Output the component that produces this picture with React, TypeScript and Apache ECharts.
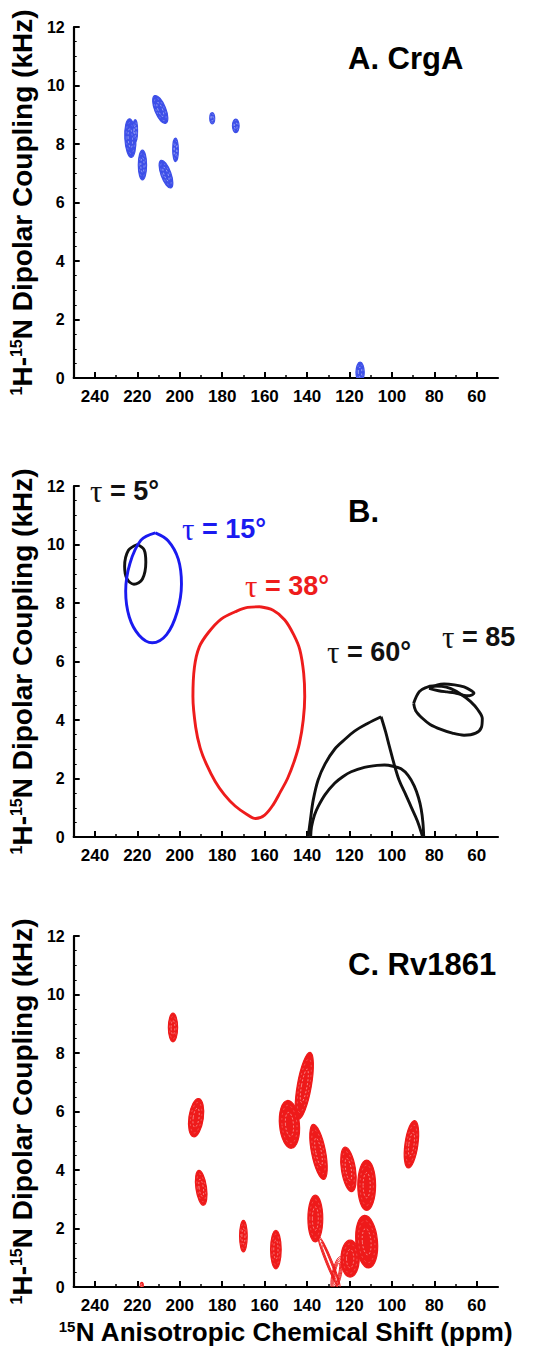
import React, { useEffect, useRef } from 'react';
import * as echarts from 'echarts';

// ---------- data ----------
const xMajorTicks = [240, 220, 200, 180, 160, 140, 120, 100, 80, 60];
const xMinorTicks = [230, 210, 190, 170, 150, 130, 110, 90, 70];

const panelTitles = ['A. CrgA', 'B.', 'C. Rv1861'];
const tauLabels = ['5°', '15°', '38°', '60°', '85'];

// peaks: [ppm, kHz, halfWidthPpm, halfHeightKHz, tiltDeg]
const crgaPeaks = [
  [223.3, 8.2, 2.6, 0.66, 3],
  [221.0, 8.45, 1.1, 0.38, 0],
  [217.6, 7.28, 1.95, 0.51, 0],
  [209.2, 9.18, 2.6, 0.51, 22],
  [206.5, 6.97, 2.35, 0.5, 20],
  [202.0, 7.8, 1.34, 0.4, 0],
  [184.7, 8.88, 1.17, 0.19, 0],
  [173.6, 8.62, 1.57, 0.23, 0],
  [115.0, 0.2, 1.95, 0.34, 0],
];

const rv1861Peaks = [
  [203.2, 8.87, 2.18, 0.49, 0],
  [192.3, 5.79, 3.4, 0.66, -8],
  [189.9, 3.39, 2.5, 0.6, 8],
  [170.0, 1.74, 1.8, 0.54, 0],
  [154.7, 1.28, 2.5, 0.66, 0],
  [148.3, 5.56, 4.7, 0.82, 5],
  [141.3, 6.88, 3.3, 1.16, -10],
  [134.6, 4.62, 3.3, 0.96, 11],
  [136.1, 2.34, 3.5, 0.8, 0],
  [120.5, 4.02, 3.3, 0.77, 9],
  [111.9, 3.48, 4.2, 0.86, 0],
  [111.9, 1.55, 5.1, 0.9, 5],
  [119.7, 0.97, 4.3, 0.63, 0],
  [90.8, 4.88, 3.05, 0.82, -8],
  [217.9, 0.06, 0.7, 0.1, 0],
];
// faint ridge contours near the axis: [ppm, kHz, halfWidthPpm, halfHeightKHz, tiltDeg]
const rv1861Ridges = [
  [129.6, 0.85, 1.5, 0.95, 22],
  [126.0, 0.45, 2.2, 0.6, -12],
];

// PISA wheel outlines: [ppm, kHz]
const tau5 = [
  [220.0, 10.0], [216.8, 9.82], [216.0, 9.4], [217.6, 8.82], [221.6, 8.64],
  [224.9, 8.83], [226.0, 9.25], [224.2, 9.8], [220.0, 10.0],
];
const tau15 = [
  [211.5, 10.4], [205.5, 10.13], [200.7, 9.5], [199.2, 8.65], [201.2, 7.7],
  [206.2, 6.92], [213.0, 6.64], [219.2, 6.9], [223.8, 7.52], [225.5, 8.4],
  [223.5, 9.35], [218.3, 10.15], [211.5, 10.4],
];
const tau38 = [
  [162.2, 7.87], [156.0, 7.75], [150.5, 7.42], [146.2, 6.9], [143.4, 6.4],
  [141.6, 5.6], [141.1, 4.8], [141.8, 4.0], [143.6, 3.2], [146.0, 2.6],
  [149.2, 2.0], [152.5, 1.55], [156.0, 1.1], [160.0, 0.75], [164.2, 0.63],
  [168.5, 0.78], [173.9, 1.06], [179.0, 1.45], [183.3, 1.9], [187.5, 2.5],
  [190.4, 3.05], [192.5, 3.75], [193.8, 4.8], [193.1, 5.8], [190.8, 6.5],
  [186.4, 7.0], [180.5, 7.45], [173.9, 7.7], [168.0, 7.85], [162.2, 7.87],
];
const tau60Outer = [
  [139.5, 0], [138.4, 0.6], [137.1, 1.26], [134.8, 1.95], [131.5, 2.5],
  [127.0, 3.0], [122.0, 3.35], [117.6, 3.62], [111.5, 3.88], [105.1, 4.11],
];
const tau60Edge = [
  [105.1, 4.11], [103.0, 3.6], [101.2, 3.1], [98.8, 2.45], [96.5, 1.92],
  [93.5, 1.45], [91.0, 1.04], [88.0, 0.55], [85.5, 0],
];
const tau60Arc = [
  [138.3, 0], [137.9, 0.35], [136.5, 0.75], [134.8, 1.04], [131.5, 1.45],
  [127.0, 1.84], [123.0, 2.07], [119.2, 2.23], [113.0, 2.38], [107.0, 2.45],
  [103.5, 2.46], [99.5, 2.42], [95.7, 2.33], [92.3, 2.1], [89.5, 1.75],
  [87.5, 1.35], [86.2, 0.95], [85.4, 0.5], [85.0, 0],
];
const tau85Loop = [
  [89.75, 4.57], [87.1, 4.97], [83.5, 5.12], [80.8, 5.16], [76.5, 5.15],
  [72.2, 5.07], [67.5, 4.88], [62.9, 4.63], [59.5, 4.35], [57.4, 4.05],
  [57.8, 3.75], [60.5, 3.55], [66.0, 3.48], [71.5, 3.55], [76.9, 3.68],
  [82.0, 3.85], [85.5, 4.05], [88.8, 4.32], [89.75, 4.57],
];
const tau85Inner = [
  [82.5, 5.08], [78.5, 5.2], [75.4, 5.23], [70.5, 5.2], [66.0, 5.13],
  [62.5, 5.0], [61.3, 4.92], [63.5, 4.83], [66.5, 4.85], [70.5, 4.93],
  [74.0, 4.96], [78.0, 5.0], [82.5, 5.08],
];

// ---------- styling ----------
const FONT = '"Liberation Sans", Arial, Helvetica, sans-serif';
const GRID_TOPS = [27, 486, 936];
const BLUE_A = '#3d4fe8';
const RED_C = '#ee1a1a';
const B_BLACK = '#111111';
const B_BLUE = '#1a1af0';
const B_RED = '#ee1c1c';

const yName = '{sup|1}H-{sup|15}N Dipolar Coupling (kHz)';
const xName = '{sup|15}N Anisotropic Chemical Shift (ppm)';

function contour(color: string) {
  return (params: any, api: any) => {
    const c = api.coord([api.value(0), api.value(1)]);
    const s = api.size([api.value(2), api.value(3)]);
    const rx = Math.max(Math.abs(s[0]), 0.8);
    const ry = Math.max(Math.abs(s[1]), 0.8);
    const rot = (api.value(4) * Math.PI) / 180;
    const children: any[] = [
      { type: 'ellipse', shape: { cx: 0, cy: 0, rx, ry }, style: { fill: color, stroke: color, lineWidth: 1.2 } },
      { type: 'ellipse', shape: { cx: 0, cy: 0, rx: rx * 0.75, ry: ry * 0.8 }, style: { fill: 'none', stroke: 'rgba(255,255,255,0.35)', lineWidth: 0.6, lineDash: [2, 3] } },
      { type: 'ellipse', shape: { cx: 0, cy: 0, rx: rx * 0.4, ry: ry * 0.5 }, style: { fill: 'none', stroke: 'rgba(255,255,255,0.6)', lineWidth: 0.7, lineDash: [2, 2] } },
    ];
    return { type: 'group', x: c[0], y: c[1], rotation: rot, children };
  };
}

function hollowContour(color: string) {
  return (params: any, api: any) => {
    const c = api.coord([api.value(0), api.value(1)]);
    const s = api.size([api.value(2), api.value(3)]);
    const rx = Math.max(Math.abs(s[0]), 0.8);
    const ry = Math.max(Math.abs(s[1]), 0.8);
    const rot = (api.value(4) * Math.PI) / 180;
    const children = [1, 0.8, 0.6, 0.4].map((f) => ({
      type: 'ellipse',
      shape: { cx: 0, cy: 0, rx: rx * f, ry: ry * (0.4 + 0.6 * f) },
      style: { fill: 'none', stroke: color, lineWidth: 0.9 },
    }));
    return { type: 'group', x: c[0], y: c[1], rotation: rot, children };
  };
}

function buildOption() {
  const xAxis: any[] = [];
  const yAxis: any[] = [];
  const grid: any[] = [];
  GRID_TOPS.forEach((top, i) => {
    grid.push({ left: 72, width: 426, top, height: 351, containLabel: false });
    xAxis.push({
      gridIndex: i,
      type: 'value',
      min: 50,
      max: 250,
      inverse: true,
      position: 'bottom',
      axisLine: { show: true, onZero: false, lineStyle: { color: '#000', width: 2.2 } },
      axisTick: { show: true, inside: true, length: 6, customValues: xMajorTicks, lineStyle: { color: '#000', width: 2 } },
      axisLabel: { show: true, customValues: xMajorTicks, fontSize: 17, fontWeight: 'bold', color: '#000', fontFamily: FONT, margin: 10 },
      splitLine: { show: false },
      name: i === 2 ? xName : '',
      nameLocation: 'middle',
      nameGap: 32,
      nameTextStyle: {
        fontSize: 26, fontWeight: 'bold', color: '#000', fontFamily: FONT,
        rich: { sup: { fontSize: 15, fontWeight: 'bold', color: '#000', fontFamily: FONT, verticalAlign: 'top' } },
      },
    });
    xAxis.push({
      gridIndex: i,
      type: 'value',
      min: 50,
      max: 250,
      inverse: true,
      position: 'bottom',
      axisLine: { show: false },
      axisTick: { show: true, inside: true, length: 3, customValues: xMinorTicks, lineStyle: { color: '#000', width: 1.5 } },
      axisLabel: { show: false },
      splitLine: { show: false },
    });
    yAxis.push({
      gridIndex: i,
      type: 'value',
      min: 0,
      max: 12,
      interval: 2,
      axisLine: { show: true, onZero: false, lineStyle: { color: '#000', width: 2.2 } },
      axisTick: { show: true, inside: true, length: 6, lineStyle: { color: '#000', width: 2 } },
      minorTick: { show: true, splitNumber: 4, length: 3, lineStyle: { color: '#000', width: 1 } },
      axisLabel: { fontSize: 16, fontWeight: 'bold', color: '#000', fontFamily: FONT, margin: 9 },
      splitLine: { show: false },
      name: yName,
      nameLocation: 'middle',
      nameRotate: 90,
      nameGap: 36,
      nameTextStyle: {
        fontSize: 28, fontWeight: 'bold', color: '#000', fontFamily: FONT,
        rich: { sup: { fontSize: 16, fontWeight: 'bold', color: '#000', fontFamily: FONT, verticalAlign: 'top' } },
      },
    });
  });

  const line = (data: number[][], color: string) => ({
    type: 'line',
    xAxisIndex: 2,
    yAxisIndex: 1,
    data,
    showSymbol: false,
    symbol: 'none',
    smooth: 0.35,
    lineStyle: { color, width: 2.9 },
    silent: true,
  });

  const series: any[] = [
    { type: 'custom', xAxisIndex: 0, yAxisIndex: 0, data: crgaPeaks, encode: { x: 0, y: 1 }, renderItem: contour(BLUE_A), clip: true, silent: true },
    line(tau5, B_BLACK),
    line(tau15, B_BLUE),
    line(tau38, B_RED),
    line(tau60Outer, B_BLACK),
    line(tau60Edge, B_BLACK),
    line(tau60Arc, B_BLACK),
    line(tau85Loop, B_BLACK),
    line(tau85Inner, B_BLACK),
    { type: 'custom', xAxisIndex: 4, yAxisIndex: 2, data: rv1861Ridges, encode: { x: 0, y: 1 }, renderItem: hollowContour(RED_C), clip: true, silent: true },
    { type: 'custom', xAxisIndex: 4, yAxisIndex: 2, data: rv1861Peaks, encode: { x: 0, y: 1 }, renderItem: contour(RED_C), clip: true, silent: true },
  ];

  const titleFont = `bold 31px ${FONT}`;
  const titlePos = [[348, 58.5], [348, 511], [348, 964]];
  const tauPos = [[90, 491], [182, 529], [245, 586], [327, 652], [442, 637]];
  const tauColors = [B_BLACK, B_BLUE, B_RED, B_BLACK, B_BLACK];
  const graphic: any[] = [];
  panelTitles.forEach((t, i) => {
    graphic.push({
      type: 'text', x: titlePos[i][0], y: titlePos[i][1],
      style: { text: t, font: titleFont, fill: '#000', verticalAlign: 'middle', textVerticalAlign: 'middle' },
    });
  });
  tauLabels.forEach((t, i) => {
    graphic.push({
      type: 'text', x: tauPos[i][0], y: tauPos[i][1],
      style: {
        text: '{t|τ} = ' + t,
        font: `bold 27px ${FONT}`,
        fill: tauColors[i],
        verticalAlign: 'middle',
        textVerticalAlign: 'middle',
        rich: { t: { fontFamily: '"Liberation Serif", serif', fontSize: 31, fontWeight: 'normal', fill: tauColors[i] } },
      },
    });
  });

  return { animation: false, backgroundColor: '#fff', grid, xAxis, yAxis, series, graphic };
}

export default function App() {
  const ref = useRef<HTMLDivElement>(null);
  useEffect(() => {
    document.body.style.margin = '0';
    const chart = echarts.init(ref.current as HTMLDivElement, null, { renderer: 'svg' });
    chart.setOption(buildOption() as any);
    return () => chart.dispose();
  }, []);
  return <div ref={ref} style={{ width: 550, height: 1355 }} />;
}
